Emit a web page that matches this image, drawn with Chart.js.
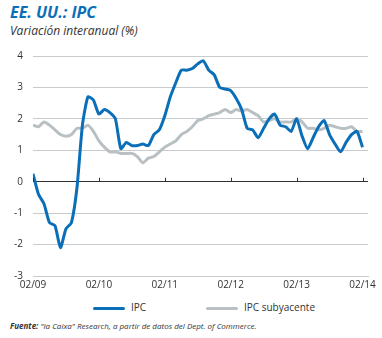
<!DOCTYPE html>
<html>
<head>
<meta charset="utf-8">
<script src="https://cdn.jsdelivr.net/npm/chart.js@4.4.1/dist/chart.umd.min.js"></script>
<style>
  body { margin: 0; background: #fff; width: 382px; height: 338px; overflow: hidden; position: relative; font-family: "Open Sans", sans-serif; }
  #title { position: absolute; left: 10px; top: 1px; font: italic bold 16px "Open Sans", sans-serif; color: #0b6fb8; }
  #subtitle { position: absolute; left: 10px; top: 22px; font: italic 12px "Open Sans", sans-serif; color: #333; }
  #wrap { position: absolute; left: 0; top: 40px; width: 382px; height: 258px; }
  #legend { position: absolute; top: 300px; left: 0; width: 382px; font: 10px "Open Sans", sans-serif; color: #333; }
  .item { position: absolute; top: 0; }
  .sw { display: inline-block; width: 32px; height: 3px; vertical-align: middle; margin-right: 6px; border-radius: 2px; }
  #source { position: absolute; left: 10px; top: 320px; font: italic 8px "Liberation Sans Narrow", "Open Sans", sans-serif; color: #333; }
</style>
</head>
<body>
<div id="title">EE. UU.: IPC</div>
<div id="subtitle">Variación interanual (%)</div>
<div id="wrap"><canvas id="cpiChart"></canvas></div>
<div id="legend">
  <span class="item" style="left:93px"><span class="sw" style="background:#0b6fb8"></span>IPC</span>
  <span class="item" style="left:206px"><span class="sw" style="background:#b9c0c4"></span>IPC subyacente</span>
</div>
<div id="source"><b>Fuente:</b> "la Caixa" Research, a partir de datos del Dept. of Commerce.</div>

<script>
// ------------ DATA (monthly, 02/2009 -> 02/2014) -------------
const tickLabels = ["02/09", "02/10", "02/11", "02/12", "02/13", "02/14"];

const ipc = [
    0.25, -0.4, -0.7, -1.3, -1.4, -2.1, -1.5, -1.3, -0.2, 1.8, 2.7,
    2.6, 2.15, 2.3, 2.2, 2.0, 1.05, 1.25, 1.15, 1.15, 1.2, 1.15, 1.5,
    1.65, 2.1, 2.7, 3.15, 3.55, 3.55, 3.6, 3.75, 3.85, 3.55, 3.4, 3.0,
    2.95, 2.9, 2.65, 2.3, 1.7, 1.65, 1.4, 1.7, 2.0, 2.15, 1.8, 1.75,
    1.6, 2.0, 1.45, 1.05, 1.4, 1.75, 1.95, 1.5, 1.2, 0.95, 1.25, 1.5,
    1.6, 1.1
];

const ipcSubyacente = [
    1.8, 1.75, 1.9, 1.8, 1.65, 1.5, 1.45, 1.5, 1.7, 1.7, 1.8,
    1.6, 1.3, 1.1, 0.95, 0.95, 0.9, 0.9, 0.9, 0.8, 0.6, 0.75, 0.8,
    0.95, 1.1, 1.2, 1.3, 1.5, 1.6, 1.75, 1.95, 2.0, 2.1, 2.15, 2.2,
    2.3, 2.2, 2.3, 2.25, 2.3, 2.2, 2.1, 1.9, 1.95, 2.0, 1.9, 1.9,
    1.9, 2.0, 1.9, 1.7, 1.7, 1.65, 1.7, 1.8, 1.75, 1.7, 1.7, 1.75,
    1.6, 1.6
];

const yTicks = [-3, -2, -1, 0, 1, 2, 3, 4];

const toPoints = arr => arr.map((v, i) => ({ x: i, y: v }));

// small upward tick marks on the zero line at each year label
const zeroTicks = {
    id: "zeroTicks",
    afterDatasetsDraw(chart) {
        const { ctx, scales } = chart;
        const y0 = scales.y.getPixelForValue(0);
        ctx.save();
        ctx.strokeStyle = "#333";
        ctx.lineWidth = 1;
        tickLabels.forEach((t, i) => {
            const x = Math.round(scales.x.getPixelForValue(i * 12)) + 0.5;
            ctx.beginPath();
            ctx.moveTo(x, y0);
            ctx.lineTo(x, y0 - 4);
            ctx.stroke();
        });
        ctx.restore();
    }
};

const ctx = document.getElementById("cpiChart");
new Chart(ctx, {
    type: "line",
    data: {
        datasets: [
            {
                label: "IPC",
                data: toPoints(ipc),
                borderColor: "#0b6fb8",
                borderWidth: 3,
                pointRadius: 0,
                tension: 0.2,
                borderJoinStyle: "round"
            },
            {
                label: "IPC subyacente",
                data: toPoints(ipcSubyacente),
                borderColor: "#b9c0c4",
                borderWidth: 3,
                pointRadius: 0,
                tension: 0.2,
                borderJoinStyle: "round"
            }
        ]
    },
    options: {
        responsive: true,
        maintainAspectRatio: false,
        animation: false,
        layout: { padding: { left: 0, right: 14, top: 8, bottom: 0 } },
        plugins: {
            legend: { display: false },
            tooltip: { enabled: false }
        },
        scales: {
            x: {
                type: "linear",
                min: 0,
                max: 61,
                afterBuildTicks: scale => {
                    scale.ticks = tickLabels.map((t, i) => ({ value: i * 12 }));
                },
                afterFit: scale => { scale.height = 22; },
                ticks: {
                    callback: (v) => tickLabels[v / 12],
                    color: "#333",
                    font: { family: "Open Sans", size: 10 },
                    maxRotation: 0,
                    autoSkip: false,
                    padding: 3
                },
                grid: { display: false, drawTicks: false },
                border: { display: true, color: "#c8ccd0", width: 1 }
            },
            y: {
                min: -3,
                max: 4,
                afterBuildTicks: scale => {
                    scale.ticks = yTicks.map(v => ({ value: v }));
                },
                afterFit: scale => { scale.width = 33; },
                ticks: {
                    color: "#333",
                    font: { family: "Open Sans", size: 10 },
                    padding: 10
                },
                grid: {
                    color: ctx => ctx.tick && ctx.tick.value === 0 ? "#333" : "#c8ccd0",
                    lineWidth: 1,
                    drawTicks: false
                },
                border: { display: false }
            }
        }
    },
    plugins: [zeroTicks]
});
</script>
</body>
</html>
